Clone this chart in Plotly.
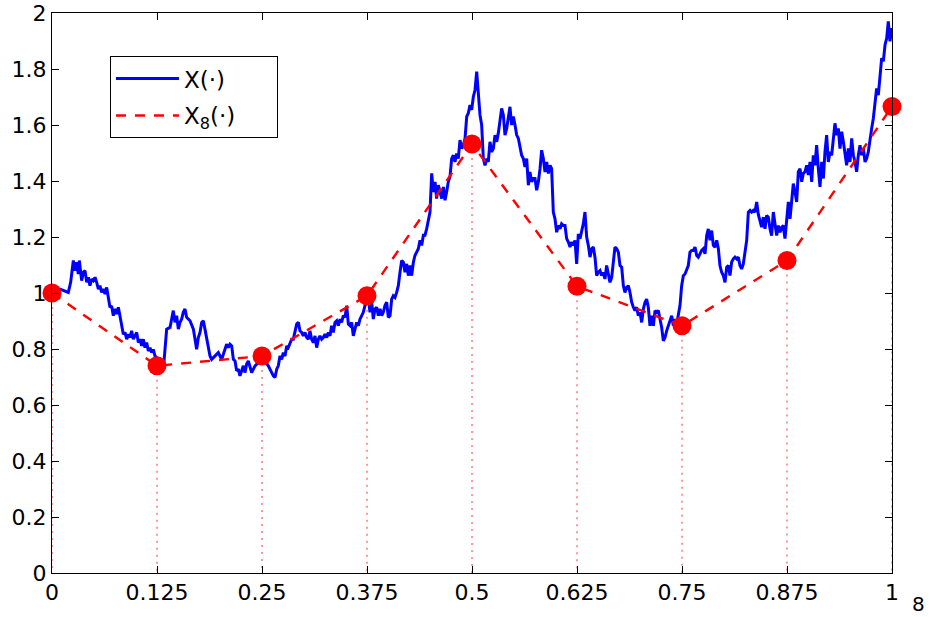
import plotly.graph_objects as go

# ---- data ----
t_path = [0, 0.0095, 0.0194, 0.0222, 0.0254, 0.0274, 0.0294, 0.0313, 0.0325, 0.0353, 0.0373, 0.0393, 0.0413, 0.0433,
          0.0452, 0.0472, 0.0492, 0.0512, 0.0532, 0.0552, 0.0571, 0.0591, 0.0611, 0.0631, 0.0651, 0.0671, 0.0690, 0.0710,
          0.0730, 0.0750, 0.0770, 0.0790, 0.0810, 0.0829, 0.0849, 0.0869, 0.0889, 0.0909, 0.0929, 0.0948, 0.0968, 0.0988,
          0.1008, 0.1028, 0.1048, 0.1067, 0.1087, 0.1107, 0.1127, 0.1147, 0.1167, 0.1187, 0.1206, 0.1226, 0.1246, 0.1286,
          0.1333, 0.1365, 0.1405, 0.1444, 0.1464, 0.1484, 0.1504, 0.1524, 0.1544, 0.1563, 0.1583, 0.1603, 0.1623, 0.1643,
          0.1683, 0.1702, 0.1722, 0.1742, 0.1762, 0.1782, 0.1802, 0.1821, 0.1841, 0.1861, 0.1881, 0.1901, 0.1940, 0.1960,
          0.1980, 0.2000, 0.2020, 0.2040, 0.2060, 0.2079, 0.2099, 0.2119, 0.2139, 0.2159, 0.2179, 0.2198, 0.2218, 0.2238,
          0.2258, 0.2278, 0.2298, 0.2317, 0.2337, 0.2357, 0.2377, 0.2397, 0.2417, 0.2476, 0.2536, 0.2575, 0.2595, 0.2635,
          0.2655, 0.2675, 0.2694, 0.2714, 0.2734, 0.2754, 0.2774, 0.2794, 0.2813, 0.2833, 0.2853, 0.2873, 0.2893, 0.2913,
          0.2933, 0.2952, 0.2972, 0.2992, 0.3012, 0.3032, 0.3052, 0.3071, 0.3091, 0.3111, 0.3131, 0.3151, 0.3171, 0.3190,
          0.3210, 0.3230, 0.3250, 0.3270, 0.3290, 0.3310, 0.3329, 0.3349, 0.3369, 0.3389, 0.3409, 0.3429, 0.3448, 0.3468,
          0.3488, 0.3508, 0.3528, 0.3548, 0.3567, 0.3587, 0.3607, 0.3627, 0.3647, 0.3667, 0.3687, 0.3706, 0.3726, 0.3766,
          0.3786, 0.3806, 0.3825, 0.3845, 0.3865, 0.3885, 0.3905, 0.3925, 0.3944, 0.3964, 0.3984, 0.4004, 0.4024, 0.4044,
          0.4063, 0.4083, 0.4103, 0.4123, 0.4143, 0.4163, 0.4183, 0.4202, 0.4222, 0.4242, 0.4262, 0.4282, 0.4302, 0.4321,
          0.4341, 0.4361, 0.4381, 0.4401, 0.4421, 0.4440, 0.4460, 0.4480, 0.4500, 0.4520, 0.4540, 0.4560, 0.4579, 0.4599,
          0.4619, 0.4639, 0.4659, 0.4679, 0.4698, 0.4718, 0.4738, 0.4758, 0.4778, 0.4798, 0.4817, 0.4837, 0.4857, 0.4877,
          0.4897, 0.4917, 0.4937, 0.4956, 0.4976, 0.4996, 0.5016, 0.5036, 0.5056, 0.5075, 0.5095, 0.5115, 0.5135, 0.5155,
          0.5175, 0.5194, 0.5214, 0.5234, 0.5254, 0.5274, 0.5294, 0.5313, 0.5333, 0.5353, 0.5373, 0.5393, 0.5413, 0.5433,
          0.5452, 0.5472, 0.5492, 0.5512, 0.5532, 0.5552, 0.5571, 0.5591, 0.5611, 0.5631, 0.5651, 0.5671, 0.5690, 0.5710,
          0.5730, 0.5750, 0.5770, 0.5790, 0.5810, 0.5829, 0.5849, 0.5869, 0.5889, 0.5909, 0.5929, 0.5948, 0.5968, 0.5988,
          0.6008, 0.6028, 0.6048, 0.6067, 0.6087, 0.6107, 0.6127, 0.6147, 0.6167, 0.6187, 0.6206, 0.6226, 0.6246, 0.6266,
          0.6286, 0.6306, 0.6325, 0.6345, 0.6365, 0.6385, 0.6405, 0.6425, 0.6444, 0.6464, 0.6484, 0.6504, 0.6524, 0.6544,
          0.6563, 0.6583, 0.6603, 0.6623, 0.6643, 0.6663, 0.6683, 0.6702, 0.6722, 0.6742, 0.6762, 0.6782, 0.6802, 0.6821,
          0.6841, 0.6861, 0.6881, 0.6901, 0.6921, 0.6940, 0.6960, 0.6980, 0.7000, 0.7020, 0.7040, 0.7060, 0.7079, 0.7099,
          0.7119, 0.7139, 0.7159, 0.7179, 0.7198, 0.7218, 0.7238, 0.7258, 0.7278, 0.7298, 0.7317, 0.7337, 0.7357, 0.7377,
          0.7397, 0.7417, 0.7437, 0.7456, 0.7476, 0.7496, 0.7516, 0.7536, 0.7556, 0.7575, 0.7595, 0.7615, 0.7635, 0.7655,
          0.7675, 0.7694, 0.7714, 0.7734, 0.7754, 0.7774, 0.7794, 0.7813, 0.7833, 0.7853, 0.7873, 0.7893, 0.7913, 0.7933,
          0.7952, 0.7972, 0.7992, 0.8012, 0.8032, 0.8052, 0.8071, 0.8091, 0.8111, 0.8131, 0.8151, 0.8171, 0.8190, 0.8210,
          0.8230, 0.8250, 0.8270, 0.8290, 0.8310, 0.8329, 0.8349, 0.8369, 0.8389, 0.8409, 0.8429, 0.8448, 0.8468, 0.8488,
          0.8508, 0.8528, 0.8548, 0.8567, 0.8587, 0.8607, 0.8627, 0.8647, 0.8667, 0.8687, 0.8706, 0.8726, 0.8746, 0.8766,
          0.8786, 0.8806, 0.8825, 0.8845, 0.8865, 0.8885, 0.8905, 0.8925, 0.8944, 0.8964, 0.8984, 0.9004, 0.9024, 0.9044,
          0.9063, 0.9083, 0.9103, 0.9123, 0.9143, 0.9163, 0.9183, 0.9202, 0.9222, 0.9242, 0.9262, 0.9282, 0.9302, 0.9321,
          0.9341, 0.9361, 0.9381, 0.9401, 0.9421, 0.9440, 0.9460, 0.9480, 0.9500, 0.9520, 0.9540, 0.9560, 0.9579, 0.9599,
          0.9619, 0.9639, 0.9659, 0.9679, 0.9698, 0.9718, 0.9738, 0.9758, 0.9778, 0.9798, 0.9817, 0.9837, 0.9857, 0.9877,
          0.9897, 0.9917, 0.9937, 0.9956, 0.9976, 1.0]

x_path = [1.000, 1.014, 1.002, 1.038, 1.116, 1.080, 1.110, 1.068, 1.116, 1.044, 1.074, 1.080, 1.038, 1.056,
          1.026, 1.050, 1.044, 1.056, 1.038, 1.014, 1.026, 1.002, 1.014, 0.996, 1.020, 0.985, 0.949, 0.954,
          0.919, 0.943, 0.925, 0.949, 0.919, 0.889, 0.853, 0.859, 0.835, 0.853, 0.841, 0.865, 0.835, 0.847,
          0.859, 0.823, 0.835, 0.811, 0.835, 0.805, 0.823, 0.793, 0.805, 0.787, 0.799, 0.775, 0.770, 0.752,
          0.754, 0.871, 0.877, 0.937, 0.895, 0.919, 0.871, 0.895, 0.907, 0.931, 0.943, 0.913, 0.907, 0.901,
          0.871, 0.835, 0.799, 0.841, 0.859, 0.895, 0.901, 0.871, 0.835, 0.811, 0.775, 0.763, 0.775, 0.781,
          0.787, 0.775, 0.763, 0.781, 0.805, 0.817, 0.805, 0.817, 0.811, 0.763, 0.757, 0.722, 0.728, 0.704,
          0.722, 0.740, 0.716, 0.746, 0.757, 0.740, 0.716, 0.728, 0.740, 0.757, 0.757, 0.740, 0.728, 0.704,
          0.698, 0.728, 0.740, 0.775, 0.763, 0.787, 0.775, 0.811, 0.805, 0.823, 0.835, 0.835, 0.859, 0.889,
          0.895, 0.865, 0.859, 0.847, 0.859, 0.841, 0.835, 0.865, 0.835, 0.823, 0.847, 0.805, 0.835, 0.847,
          0.835, 0.841, 0.853, 0.841, 0.859, 0.847, 0.883, 0.859, 0.895, 0.901, 0.883, 0.907, 0.895, 0.919,
          0.913, 0.955, 0.889, 0.883, 0.895, 0.847, 0.871, 0.895, 0.883, 0.907, 0.919, 0.931, 0.955, 0.978,
          0.931, 0.967, 0.907, 0.943, 0.949, 0.919, 0.943, 0.919, 0.931, 0.955, 0.967, 0.913, 0.919, 0.978,
          0.990, 0.984, 1.002, 1.026, 1.074, 1.116, 1.110, 1.074, 1.104, 1.062, 1.098, 1.062, 1.110, 1.134,
          1.146, 1.158, 1.188, 1.170, 1.206, 1.206, 1.229, 1.265, 1.289, 1.427, 1.361, 1.397, 1.337, 1.385,
          1.361, 1.337, 1.379, 1.331, 1.361, 1.397, 1.415, 1.480, 1.492, 1.468, 1.498, 1.480, 1.546, 1.516,
          1.528, 1.552, 1.630, 1.642, 1.671, 1.654, 1.701, 1.725, 1.791, 1.719, 1.636, 1.600, 1.480, 1.456,
          1.480, 1.468, 1.540, 1.504, 1.516, 1.564, 1.540, 1.570, 1.612, 1.659, 1.636, 1.564, 1.588, 1.630,
          1.665, 1.600, 1.630, 1.600, 1.564, 1.552, 1.528, 1.492, 1.480, 1.450, 1.480, 1.385, 1.432, 1.397,
          1.409, 1.409, 1.367, 1.397, 1.444, 1.510, 1.480, 1.432, 1.468, 1.427, 1.456, 1.444, 1.289, 1.265,
          1.217, 1.241, 1.229, 1.247, 1.241, 1.241, 1.194, 1.182, 1.164, 1.182, 1.170, 1.188, 1.104, 1.211,
          1.194, 1.217, 1.247, 1.289, 1.200, 1.170, 1.128, 1.158, 1.164, 1.128, 1.062, 1.074, 1.080, 1.062,
          1.074, 1.050, 1.098, 1.068, 1.038, 1.056, 1.122, 1.164, 1.158, 1.146, 1.098, 1.092, 1.026, 1.002,
          1.020, 1.026, 1.002, 0.967, 0.949, 0.937, 0.949, 0.919, 0.931, 0.895, 0.943, 0.967, 0.978, 0.949,
          0.883, 0.919, 0.883, 0.937, 0.931, 0.937, 0.907, 0.877, 0.829, 0.841, 0.865, 0.883, 0.895, 0.919,
          0.883, 0.907, 0.889, 0.919, 0.955, 1.026, 1.062, 1.068, 1.086, 1.098, 1.146, 1.152, 1.152, 1.164,
          1.134, 1.128, 1.140, 1.152, 1.158, 1.140, 1.205, 1.229, 1.188, 1.223, 1.170, 1.164, 1.188, 1.158,
          1.098, 1.074, 1.062, 1.038, 1.092, 1.098, 1.062, 1.110, 1.122, 1.128, 1.122, 1.128, 1.098, 1.086,
          1.104, 1.152, 1.188, 1.289, 1.295, 1.289, 1.295, 1.289, 1.325, 1.280, 1.253, 1.235, 1.271, 1.229,
          1.277, 1.271, 1.229, 1.205, 1.289, 1.241, 1.205, 1.241, 1.217, 1.235, 1.241, 1.194, 1.253, 1.325,
          1.265, 1.325, 1.391, 1.361, 1.325, 1.433, 1.444, 1.397, 1.427, 1.433, 1.456, 1.421, 1.468, 1.397,
          1.492, 1.456, 1.528, 1.444, 1.379, 1.468, 1.409, 1.504, 1.564, 1.468, 1.504, 1.492, 1.564, 1.606,
          1.564, 1.588, 1.516, 1.576, 1.540, 1.504, 1.456, 1.516, 1.468, 1.552, 1.492, 1.468, 1.433, 1.492,
          1.528, 1.492, 1.516, 1.468, 1.480, 1.504, 1.552, 1.588, 1.624, 1.695, 1.731, 1.707, 1.767, 1.839,
          1.827, 1.886, 1.910, 1.970, 1.899, 1.946]

t_grid = [0, 0.125, 0.25, 0.375, 0.5, 0.625, 0.75, 0.875, 1.0]
x8_vals = [1.0, 0.740, 0.775, 0.990, 1.532, 1.024, 0.883, 1.116, 1.666]

x_tick_text = ["0", "0.125", "0.25", "0.375", "0.5", "0.625", "0.75", "0.875", "1"]
y_tick_vals = [0, 0.2, 0.4, 0.6, 0.8, 1.0, 1.2, 1.4, 1.6, 1.8, 2.0]
y_tick_text = ["0", "0.2", "0.4", "0.6", "0.8", "1", "1.2", "1.4", "1.6", "1.8", "2"]

FONT = "DejaVu Sans"
PAD = "\u00a0" * 5  # widens the legend box to the reference's size

# dotted drop lines from each node to the axis
stem_x, stem_y = [], []
for tv, xv in zip(t_grid, x8_vals):
    stem_x += [tv, tv, None]
    stem_y += [xv, 0, None]

fig = go.Figure()
fig.add_trace(go.Scatter(x=stem_x, y=stem_y, mode="lines", showlegend=False, hoverinfo="skip",
                         line=dict(color="#ff3030", width=1, dash="2px,5px")))
fig.add_trace(go.Scatter(x=t_path, y=x_path, mode="lines", name="X(·)" + PAD, legendgroup="a",
                         line=dict(color="#0000ff", width=3)))
fig.add_trace(go.Scatter(x=t_grid, y=x8_vals, mode="lines", name="X<sub>8</sub>(·)" + PAD, legendgroup="b",
                         line=dict(color="#ff0000", width=2.4, dash="10px,9px")))
fig.add_trace(go.Scatter(x=t_grid, y=x8_vals, mode="markers", showlegend=False, cliponaxis=False,
                         marker=dict(color="#ff0000", size=19, line=dict(width=0))))

axis_common = dict(showgrid=False, zeroline=False, showline=True, linecolor="black", linewidth=1,
                   mirror="ticks", ticks="inside", ticklen=7, tickcolor="black", tickwidth=1,
                   automargin=False, ticklabeloverflow="allow",
                   tickfont=dict(family=FONT, size=22, color="black"))

fig.update_layout(
    width=930, height=617,
    margin=dict(l=52, r=38, t=13, b=44),
    paper_bgcolor="white", plot_bgcolor="white",
    font=dict(family=FONT, size=22, color="black"),
    xaxis=dict(range=[0, 1], tickmode="array", tickvals=t_grid, ticktext=x_tick_text, **axis_common),
    yaxis=dict(range=[0, 2], tickmode="array", tickvals=y_tick_vals, ticktext=y_tick_text, **axis_common),
    showlegend=True,
    legend=dict(x=0.069, y=0.923, xanchor="left", yanchor="top", bgcolor="white",
                bordercolor="black", borderwidth=1, itemwidth=63, tracegroupgap=4,
                font=dict(family=FONT, size=23, color="black")),
    annotations=[dict(text="8", x=1.031, y=-0.0554, xref="paper", yref="paper", showarrow=False,
                      xanchor="center", yanchor="middle", font=dict(family=FONT, size=20, color="black"))],
)

# remove the page's default body margin so the figure fills the 930x617 window exactly
fig.write_html("out.html", config={"displayModeBar": False},
               post_script="document.body.style.margin='0px';document.body.style.overflow='hidden';")
